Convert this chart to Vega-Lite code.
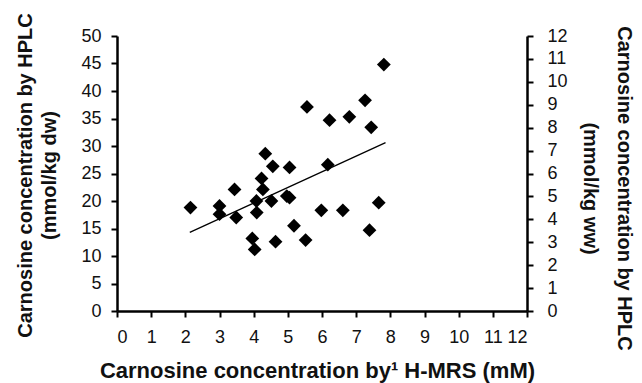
{
  "$schema": "https://vega.github.io/schema/vega-lite/v6.json",
  "width": 410,
  "height": 275,
  "autosize": {"type": "none"},
  "padding": {"left": 117, "top": 36, "right": 115, "bottom": 72},
  "datasets": {
    "points": [
      {"x": 2.15, "y": 18.8}, {"x": 3.0, "y": 19.1}, {"x": 3.0, "y": 17.6},
      {"x": 3.44, "y": 22.1}, {"x": 3.49, "y": 17.0}, {"x": 3.96, "y": 13.2},
      {"x": 4.03, "y": 11.2}, {"x": 4.08, "y": 20.0}, {"x": 4.09, "y": 17.9},
      {"x": 4.23, "y": 24.1}, {"x": 4.27, "y": 22.1}, {"x": 4.34, "y": 28.6},
      {"x": 4.52, "y": 20.0}, {"x": 4.56, "y": 26.3}, {"x": 4.64, "y": 12.6},
      {"x": 4.97, "y": 20.9}, {"x": 5.05, "y": 20.6}, {"x": 5.05, "y": 26.1},
      {"x": 5.18, "y": 15.5}, {"x": 5.52, "y": 12.9}, {"x": 5.56, "y": 37.1},
      {"x": 5.98, "y": 18.3}, {"x": 6.17, "y": 26.6}, {"x": 6.22, "y": 34.7},
      {"x": 6.61, "y": 18.3}, {"x": 6.8, "y": 35.3}, {"x": 7.26, "y": 38.3},
      {"x": 7.39, "y": 14.7}, {"x": 7.44, "y": 33.4}, {"x": 7.66, "y": 19.7},
      {"x": 7.81, "y": 44.8}
    ],
    "fit": [
      {"x": 2.13, "y": 14.3},
      {"x": 7.86, "y": 30.6}
    ],
    "ww": [
      {"x": 0, "v": 0}
    ]
  },
  "encoding": {
    "x": {
      "field": "x", "type": "quantitative",
      "scale": {"domain": [0, 12], "nice": false, "zero": false},
      "axis": {
        "values": [0, 1, 2, 3, 4, 5, 6, 7, 8, 9, 10, 11, 12],
        "labelOverlap": false,
        "title": "Carnosine concentration by\u00b9 H-MRS (mM)",
        "titleFontSize": 22,
        "labelPadding": 11,
        "titleX": 200,
        "titleY": 66,
        "titleBaseline": "alphabetic",
        "titleAlign": "center"
      }
    }
  },
  "layer": [
    {
      "data": {"name": "points"},
      "mark": {"type": "point", "shape": "diamond", "filled": true, "size": 190, "color": "#000000", "opacity": 1},
      "encoding": {
        "y": {
          "field": "y", "type": "quantitative",
          "scale": {"domain": [0, 50], "nice": false},
          "axis": {
            "values": [0, 5, 10, 15, 20, 25, 30, 35, 40, 45, 50],
            "labelOverlap": false,
            "title": ["Carnosine concentration by HPLC", "(mmol/kg dw)"],
            "labelPadding": 10,
            "titleX": -102,
            "titleY": 139,
            "titleAngle": -90,
            "titleBaseline": "top",
            "titleAlign": "center",
            "titleLineHeight": 24
          }
        }
      }
    },
    {
      "data": {"name": "fit"},
      "mark": {"type": "line", "color": "#000000", "strokeWidth": 1.3},
      "encoding": {
        "y": {"field": "y", "type": "quantitative", "scale": {"domain": [0, 50], "nice": false}, "axis": null}
      }
    },
    {
      "data": {"name": "ww"},
      "mark": {"type": "point", "opacity": 0},
      "encoding": {
        "y": {
          "field": "v", "type": "quantitative",
          "scale": {"domain": [0, 12], "nice": false},
          "axis": {
            "orient": "right",
            "values": [0, 1, 2, 3, 4, 5, 6, 7, 8, 9, 10, 11, 12],
            "labelOverlap": false,
            "title": ["Carnosine concentration by HPLC", "(mmol/kg ww)"],
            "labelPadding": 14,
            "titleX": 106,
            "titleY": 152,
            "titleAngle": 90,
            "titleBaseline": "top",
            "titleAlign": "center",
            "titleLineHeight": 34
          }
        }
      }
    }
  ],
  "resolve": {"scale": {"y": "independent"}, "axis": {"y": "independent"}},
  "config": {
    "view": {"stroke": null},
    "font": "Liberation Sans",
    "axis": {
      "grid": false,
      "domainColor": "#000000",
      "domainWidth": 2.5,
      "tickColor": "#000000",
      "tickWidth": 2,
      "tickSize": 6,
      "labelColor": "#111111",
      "labelFont": "Liberation Sans",
      "labelFontSize": 18,
      "labelFontWeight": "normal",
      "labelOverlap": false,
      "titleColor": "#111111",
      "titleFont": "Liberation Sans",
      "titleFontSize": 20,
      "titleFontWeight": "bold"
    }
  }
}
